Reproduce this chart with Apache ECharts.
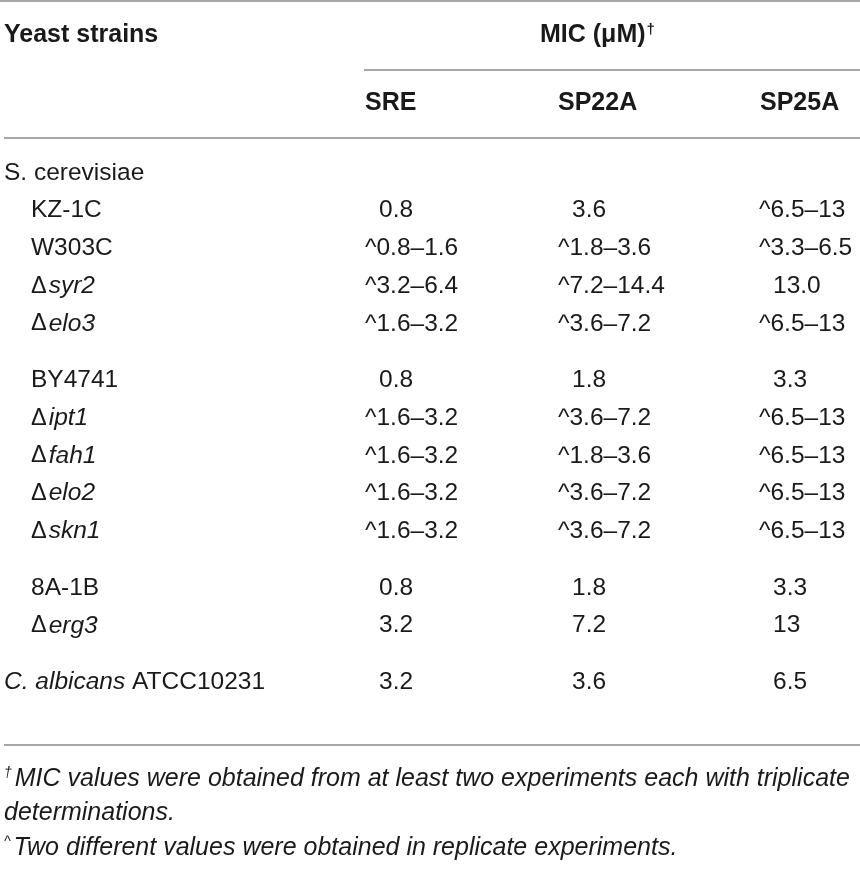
<!DOCTYPE html>
<html><head><meta charset="utf-8">
<script src="https://cdn.jsdelivr.net/npm/echarts@6.0.0/dist/echarts.min.js"></script>
<style>html,body{margin:0;padding:0;background:#fff}#c{width:860px;height:870px}</style>
</head><body><div id="c"></div>
<script>
// ---- data ----
const strains = ['S. cerevisiae','KZ-1C','W303C','Δsyr2','Δelo3','BY4741','Δipt1','Δfah1','Δelo2','Δskn1','8A-1B','Δerg3','C. albicans ATCC10231'];
const strainGroup = [0,0,0,0,0,1,1,1,1,1,2,2,3];
const strainIndent = [0,1,1,1,1,1,1,1,1,1,1,1,0];
const columns = ['SRE','SP22A','SP25A'];
const sre   = ['', '0.8','^0.8–1.6','^3.2–6.4','^1.6–3.2','0.8','^1.6–3.2','^1.6–3.2','^1.6–3.2','^1.6–3.2','0.8','3.2','3.2'];
const sp22a = ['', '3.6','^1.8–3.6','^7.2–14.4','^3.6–7.2','1.8','^3.6–7.2','^1.8–3.6','^3.6–7.2','^3.6–7.2','1.8','7.2','3.6'];
const sp25a = ['', '^6.5–13','^3.3–6.5','13.0','^6.5–13','3.3','^6.5–13','^6.5–13','^6.5–13','^6.5–13','3.3','13','6.5'];
const rowHeader = 'Yeast strains';
const groupHeader = 'MIC (μM)';
const footnote1 = 'MIC values were obtained from at least two experiments each with triplicate';
const footnote1b = 'determinations.';
const footnote2 = 'Two different values were obtained in replicate experiments.';

// ---- layout ----
const FONT = '"Liberation Sans", Arial, sans-serif';
const TXT = '#1a1a1a';
const LINE = '#a6a6a6';
const FS = 24.5;
const HFS = 25;
const NFS = 25;
const rowY0 = 173, rowStep = 37.7, groupGap = 19;
const headX = [365, 558, 760];
const colX = [365, 558, 759];
const valIndent = 14;
const values = [sre, sp22a, sp25a];

const rich = {
  n: {fontFamily: FONT, fontSize: FS, color: TXT},
  it: {fontFamily: FONT, fontSize: FS, color: TXT, fontStyle: 'italic'},
  d: {fontFamily: FONT, fontSize: FS - 1, color: TXT, padding: [0, 2, 0, 0]},
  b: {fontFamily: FONT, fontSize: HFS, color: TXT, fontWeight: 'bold'},
  bsup: {fontFamily: FONT, fontSize: 15, color: TXT, fontWeight: 'bold', padding: [0, 0, 10, 1]},
  fit: {fontFamily: FONT, fontSize: NFS, color: TXT, fontStyle: 'italic'},
  fsup: {fontFamily: FONT, fontSize: 14, color: TXT, fontStyle: 'italic', padding: [0, 3, 11, 0]}
};

function strainRich(s) {
  if (s.charAt(0) === 'Δ') return '{d|Δ}{it|' + s.slice(1) + '}';
  const m = s.match(/^(C\. albicans)(.*)$/);
  if (m) return '{it|' + m[1] + '}{n|' + m[2] + '}';
  return '{n|' + s + '}';
}
function text(x, y, str) {
  return {type: 'text', x: x, y: y, silent: true,
    style: {text: str, rich: rich, fill: TXT, font: FS + 'px ' + FONT, verticalAlign: 'middle', align: 'left'}};
}
function hline(x1, x2, y) {
  return {type: 'line', silent: true, shape: {x1: x1, y1: y, x2: x2, y2: y}, style: {stroke: LINE, lineWidth: 2}};
}

const els = [];
els.push(hline(0, 860, 1));
els.push(text(4, 35, '{b|' + rowHeader + '}'));
els.push(text(540, 35, '{b|' + groupHeader + '}{bsup|†}'));
els.push(hline(364, 860, 70));
columns.forEach((c, j) => els.push(text(headX[j], 103, '{b|' + c + '}')));
els.push(hline(4, 860, 138));
strains.forEach((s, i) => {
  const y = rowY0 + i * rowStep + strainGroup[i] * groupGap;
  els.push(text(strainIndent[i] ? 31 : 4, y, strainRich(s)));
  values.forEach((col, j) => {
    const v = col[i];
    if (!v) return;
    const x = colX[j] + (v.charAt(0) === '^' ? 0 : valIndent);
    els.push(text(x, y, '{n|' + v + '}'));
  });
});
els.push(hline(4, 860, 745));
els.push(text(4, 779, '{fsup|†}{fit|' + footnote1 + '}'));
els.push(text(4, 813, '{fit|' + footnote1b + '}'));
els.push(text(4, 848, '{fsup|^}{fit|' + footnote2 + '}'));

const chart = echarts.init(document.getElementById('c'), null, {renderer: 'canvas'});
chart.setOption({backgroundColor: '#fff', animation: false, graphic: {elements: els}});
</script></body></html>
